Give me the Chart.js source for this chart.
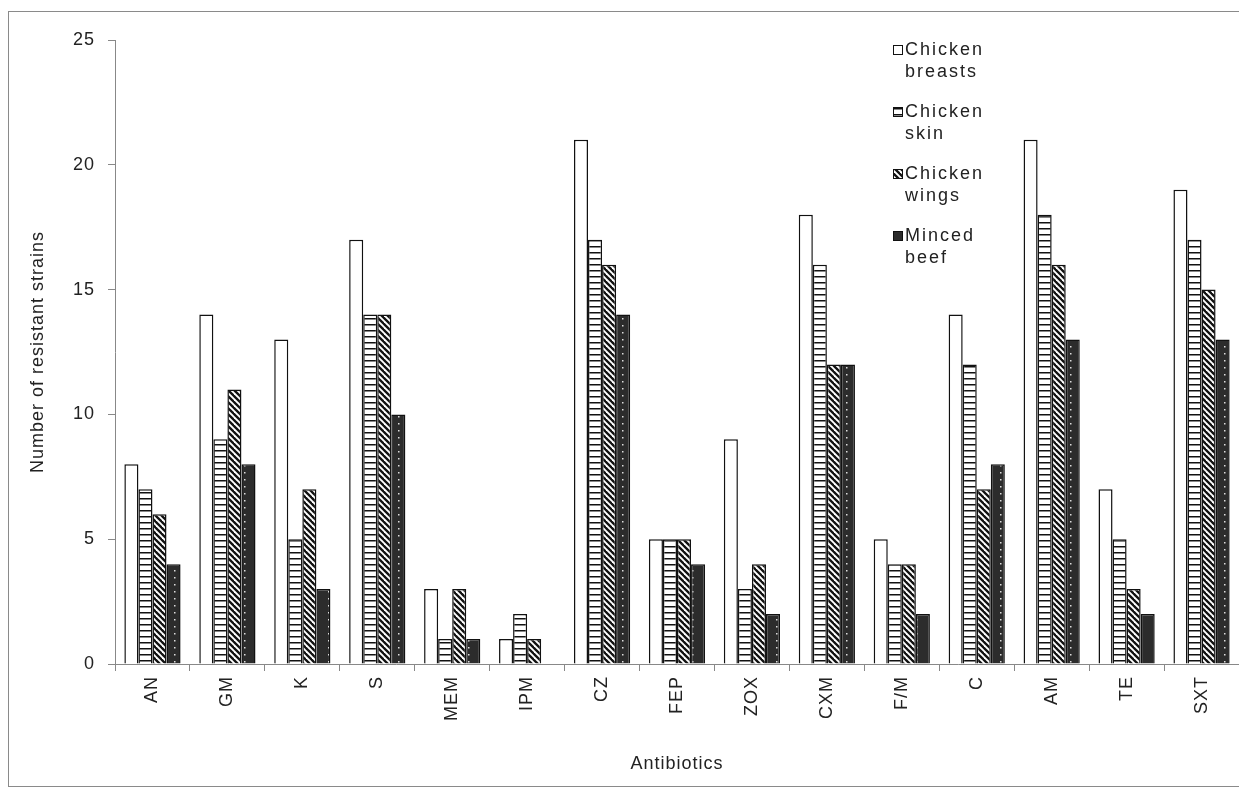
<html>
<head>
<script src="https://cdn.jsdelivr.net/npm/chart.js"></script>
<style>
  body { margin: 0; background: #fff; }
  #wrap { position: relative; width: 1239px; height: 793px; }
</style>
</head>
<body>
<div id="wrap"><canvas id="chart" width="1239" height="793"></canvas></div>
<script>
var antibiotics = ['AN', 'GM', 'K', 'S', 'MEM', 'IPM', 'CZ', 'FEP', 'ZOX', 'CXM', 'F/M', 'C', 'AM', 'TE', 'SXT'];
var chickenBreasts = [8, 14, 13, 17, 3, 1, 21, 5, 9, 18, 5, 14, 21, 7, 19];
var chickenSkin = [7, 9, 5, 14, 1, 2, 17, 5, 3, 16, 4, 12, 18, 5, 17];
var chickenWings = [6, 11, 7, 14, 3, 1, 16, 5, 4, 12, 4, 7, 16, 3, 15];
var mincedBeef = [4, 8, 3, 10, 1, 0, 14, 4, 2, 12, 2, 8, 13, 2, 13];
var yTicks = [0, 5, 10, 15, 20, 25];

var FONT = '"Liberation Sans", Arial, sans-serif';

// little canvases used as fill patterns
function makePattern(w, h, draw) {
  var c = document.createElement('canvas');
  c.width = w; c.height = h;
  var g = c.getContext('2d');
  draw(g, w, h);
  return g.createPattern(c, 'repeat');
}
var ctx = document.getElementById('chart').getContext('2d');

var hLines = makePattern(8, 6, function(g, w, h) {
  g.fillStyle = '#fff'; g.fillRect(0, 0, w, h);
  g.fillStyle = '#111'; g.fillRect(0, 0, w, 1.5);
});
var diag = makePattern(6, 6, function(g, w, h) {
  g.fillStyle = '#fff'; g.fillRect(0, 0, w, h);
  g.strokeStyle = '#111'; g.lineWidth = 2.3;
  for (var k = -2; k <= 2; k++) {
    g.beginPath();
    g.moveTo(k * 6 - 1, -1);
    g.lineTo(k * 6 + 7, 7);
    g.stroke();
  }
});
var dots = makePattern(14, 7, function(g, w, h) {
  g.fillStyle = '#2c2c2c'; g.fillRect(0, 0, w, h);
  g.fillStyle = '#ddd'; g.fillRect(6, 3, 1.5, 1.5);
});

var fills = ['#fff', hLines, diag, dots];
var names = [['Chicken', 'breasts'], ['Chicken', 'skin'], ['Chicken', 'wings'], ['Minced', 'beef']];

// the original uses slightly spaced-out lettering
var spacing = {
  id: 'spacing',
  beforeLayout: function(chart) { chart.ctx.letterSpacing = '1px'; },
  beforeDraw: function(chart) { chart.ctx.letterSpacing = '1px'; }
};

var frame = {
  id: 'frame',
  beforeDraw: function(chart) {
    var c = chart.ctx;
    c.save();
    c.strokeStyle = '#8a8a8a';
    c.lineWidth = 1;
    c.strokeRect(8.5, 11.5, 1240, 775);
    c.restore();
  }
};

var legendBox = {
  id: 'legendBox',
  afterDraw: function(chart) {
    var c = chart.ctx;
    c.save();
    c.font = '18px ' + FONT;
    c.letterSpacing = '2px';
    c.textBaseline = 'middle';
    for (var i = 0; i < names.length; i++) {
      var y = 50 + i * 62;
      c.fillStyle = fills[i];
      c.fillRect(893, y - 5, 10, 10);
      c.strokeStyle = '#111';
      c.lineWidth = 1;
      c.strokeRect(893.5, y - 4.5, 9, 9);
      c.fillStyle = '#222';
      c.fillText(names[i][0], 905, y);
      c.fillText(names[i][1], 905, y + 22);
    }
    c.restore();
  }
};

var sets = [chickenBreasts, chickenSkin, chickenWings, mincedBeef].map(function(d, i) {
  return {
    label: names[i].join(' '),
    data: d,
    backgroundColor: fills[i],
    borderColor: '#111',
    borderWidth: 1.5,
    categoryPercentage: 0.75,
    barPercentage: 1
  };
});

new Chart(ctx, {
  type: 'bar',
  data: { labels: antibiotics, datasets: sets },
  plugins: [spacing, frame, legendBox],
  options: {
    responsive: false,
    animation: false,
    layout: { padding: { top: 40, right: 0, bottom: 0, left: 0 } },
    plugins: { legend: { display: false }, tooltip: { enabled: false } },
    scales: {
      x: {
        grid: { offset: true, drawOnChartArea: false, tickLength: 7, color: '#888' },
        border: { color: '#888' },
        ticks: { minRotation: 90, maxRotation: 90, color: '#222', font: { family: FONT, size: 18 }, padding: 5 },
        title: { display: true, text: 'Antibiotics', color: '#222', font: { family: FONT, size: 18 }, padding: { top: 4, bottom: 18 } },
        afterFit: function(s) { s.height = 129; }
      },
      y: {
        min: 0, max: 25,
        afterBuildTicks: function(s) { s.ticks = yTicks.map(function(v) { return { value: v }; }); },
        grid: { drawOnChartArea: false, tickLength: 7, color: '#888' },
        border: { color: '#888' },
        ticks: { color: '#222', font: { family: FONT, size: 18 }, padding: 13 },
        title: { display: true, text: 'Number of resistant strains', color: '#222', font: { family: FONT, size: 18 }, padding: { top: 27, bottom: 0 } },
        afterFit: function(s) { s.width = 115; }
      }
    }
  }
});
</script>
</body>
</html>
